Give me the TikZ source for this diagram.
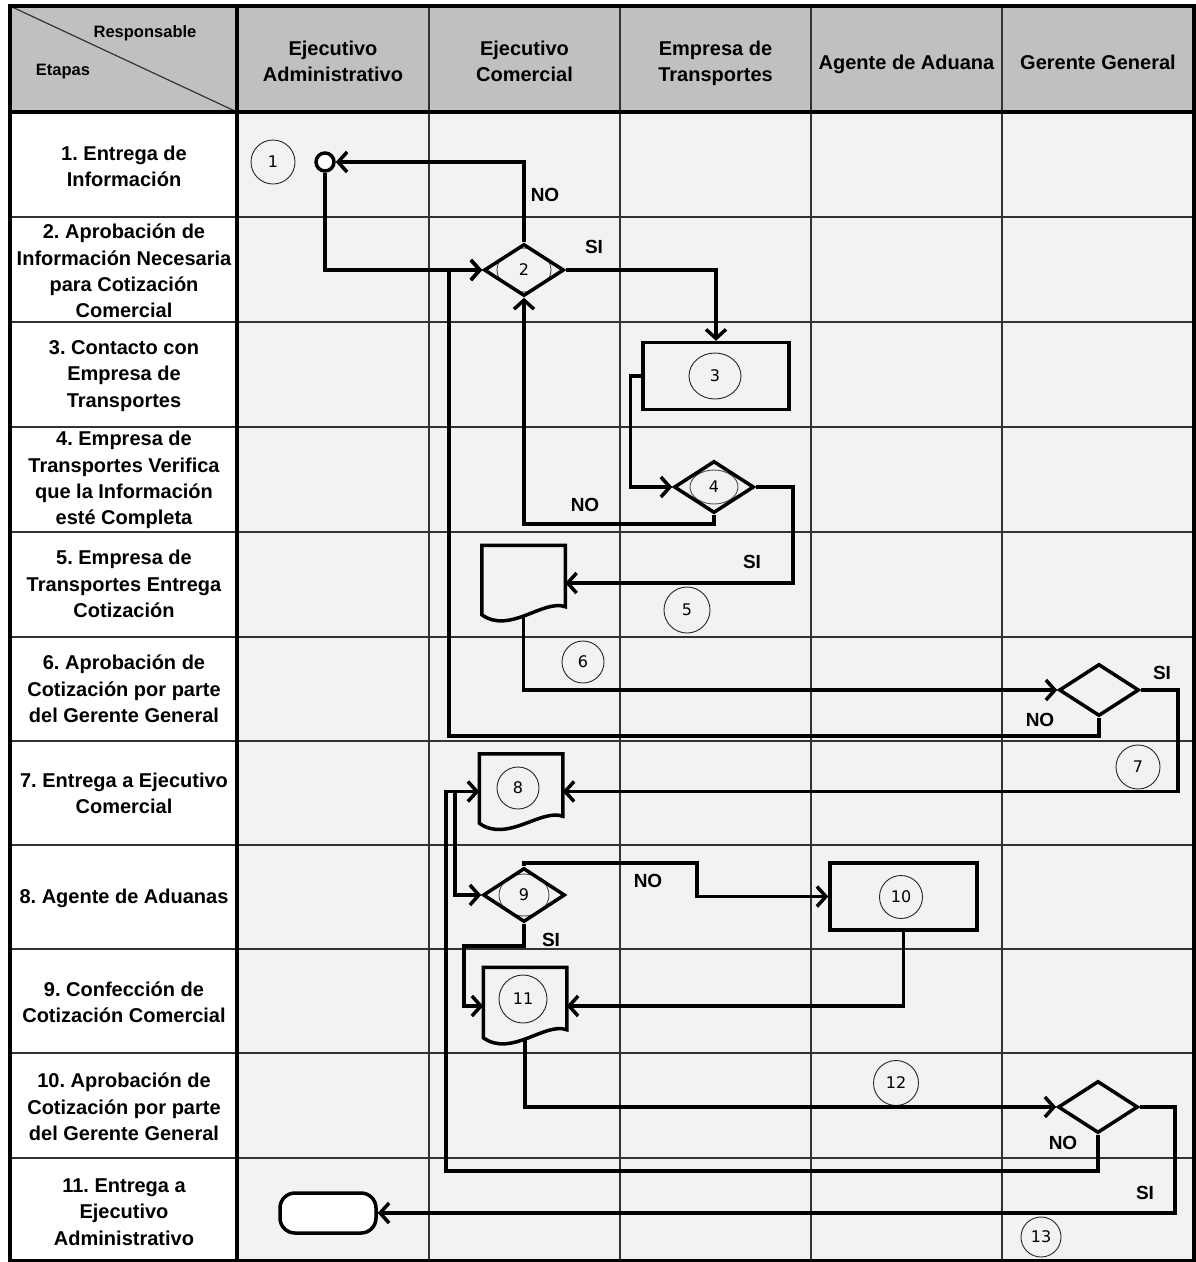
\documentclass[tikz,border=0pt]{standalone}
\usepackage{fontspec}
\setmainfont{Liberation Sans}
\newfontfamily\numfont{DejaVu Sans}
\usepackage{tikz}
\usetikzlibrary{shapes.geometric}
\usetikzlibrary{arrows.meta}
\usetikzlibrary{calc}

\definecolor{headgray}{HTML}{C0C0C0}
\definecolor{cellgray}{HTML}{F2F2F2}

\tikzset{
	gridline/.style={line width=1.2pt, black!80},
	heavyline/.style={line width=3.5pt},
	headtext/.style={align=center, font=\bfseries\fontsize{20}{26}\selectfont},
	rowtext/.style={align=center, inner sep=0pt, font=\frenchspacing\bfseries\fontsize{20}{26.3}\selectfont},
	answer/.style={font=\bfseries\fontsize{19}{19}\selectfont},
	flow/.style={line width=3.5pt, -{Straight Barb[length=9pt,width=20pt]}},
	shapeline/.style={line width=3.5pt},
	numcirc/.style={circle, draw, line width=0.9pt, black!85, text=black, minimum size=44pt, inner sep=0pt, font=\numfont\fontsize{16}{16}\selectfont},
	process/.style={rectangle, draw, shapeline, fill=cellgray, minimum width=146pt, minimum height=67pt, inner sep=0pt},
	decision/.style={diamond, draw, shapeline, fill=cellgray, minimum width=80pt, minimum height=52pt, inner sep=0pt, font=\numfont\fontsize{16}{16}\selectfont},
	docbox/.style={rectangle, minimum width=80pt, minimum height=72pt, inner sep=0pt, outer sep=1.75pt},
	startpt/.style={circle, draw, shapeline, fill=white, minimum size=18pt, inner sep=0pt},
	terminal/.style={rectangle, rounded corners=15pt, draw, shapeline, fill=white, minimum width=96pt, minimum height=40pt, inner sep=0pt}
}

\begin{document}
\begin{tikzpicture}[x=1pt, y=-1pt]
				\useasboundingbox (0,0) rectangle (1196,1262);
				% Table: fills, rules and titles:
				\fill[headgray] (10,6) rectangle (1194,112);
				\fill[white] (10,112) rectangle (237,1261);
				\fill[cellgray] (237,112) rectangle (1194,1261);
				\foreach \y in {217,322,427,532,637,741,845,949,1053,1158}
					\draw[gridline] (10,\y) -- (1194,\y);
				\foreach \x in {429,620,811,1002}
					\draw[gridline] (\x,6) -- (\x,1261);
				\draw[gridline] (10,6) -- (237,112);
				\draw[heavyline] (237,6) -- (237,1261);
				\draw[heavyline] (10,112) -- (1194,112);
				\draw[heavyline] (10,6) rectangle (1194,1261);
				\node[font=\bfseries\fontsize{16.5}{16.5}\selectfont](T1) at (145,33){Responsable};
				\node[font=\bfseries\fontsize{16.5}{16.5}\selectfont](T2) at (63,72){Etapas};
				\node[headtext](H1) at (333,61){Ejecutivo\\Administrativo};
				\node[headtext](H2) at (524.5,61){Ejecutivo\\Comercial};
				\node[headtext](H3) at (715.5,63){Empresa de\\Transportes};
				\node[headtext](H4) at (906.5,64){Agente de Aduana};
				\node[headtext](H5) at (1098,62){Gerente General};
				\node[rowtext](R1) at (124,166){1. Entrega de\\Información};
				\node[rowtext](R2) at (124,271){2. Aprobación de\\Información Necesaria\\para Cotización\\Comercial};
				\node[rowtext](R3) at (124,376){3. Contacto con\\Empresa de\\Transportes};
				\node[rowtext](R4) at (124,480){4. Empresa de\\Transportes Verifica\\que la Información\\esté Completa};
				\node[rowtext](R5) at (124,584){5. Empresa de\\Transportes Entrega\\Cotización};
				\node[rowtext](R6) at (124,689){6. Aprobación de\\Cotización por parte\\del Gerente General};
				\node[rowtext](R7) at (124,793){7. Entrega a Ejecutivo\\Comercial};
				\node[rowtext](R8) at (124,898){8. Agente de Aduanas};
				\node[rowtext](R9) at (124,1002){9. Confección de\\Cotización Comercial};
				\node[rowtext](R10) at (124,1107){10. Aprobación de\\Cotización por parte\\del Gerente General};
				\node[rowtext](R11) at (124,1212){11. Entrega a\\Ejecutivo\\Administrativo};
				% Shapes of the flow:
				\node[startpt](S1) at (325,162){};
				\node[numcirc](N1) at (273,162){1};
				\node[decision, path picture={\draw[line width=0.9pt, black!70] (path picture bounding box.center) ellipse (27pt and 22pt);}](D2) at (524,270){2};
				\node[process](B3) at (716,376){};
				\node[numcirc, ellipse, minimum width=52pt, minimum height=46pt](N3) at (715,376){3};
				\node[decision, path picture={\draw[line width=0.9pt, black!70] (path picture bounding box.center) ellipse (24pt and 17pt);}](D4) at (714,487){4};
				\node[docbox](Doc5) at (523.5,583){};
				\draw[shapeline, fill=cellgray] (Doc5.north west) -- (Doc5.north east) -- ($(Doc5.south east)+(0,-14)$) .. controls +(-22,-8) and +(28,20) .. ($(Doc5.south west)+(0,-6)$) -- cycle;
				\node[numcirc, minimum size=46pt](N5) at (687,610){5};
				\node[numcirc, minimum size=42pt](N6) at (583,662){6};
				\node[decision](G6) at (1099,690){};
				\node[numcirc](N7) at (1138,767){7};
				\node[docbox](Doc8) at (521,791.5){};
				\draw[shapeline, fill=cellgray] (Doc8.north west) -- (Doc8.north east) -- ($(Doc8.south east)+(0,-13)$) .. controls +(-22,-8) and +(28,20) .. ($(Doc8.south west)+(0,-6)$) -- cycle;
				\node[numcirc, minimum size=42pt](N8) at (518,788){8};
				\node[decision, minimum width=82pt, minimum height=54pt, path picture={\draw[line width=0.9pt, black!70] (path picture bounding box.center) ellipse (25pt and 21pt);}](D9) at (524,895){9};
				\node[process, minimum width=147pt](B10) at (903.5,896.5){};
				\node[numcirc, minimum size=43pt](N10) at (901,897){10};
				\node[docbox, minimum height=74pt](Doc11) at (525,1006){};
				\draw[shapeline, fill=cellgray] (Doc11.north west) -- (Doc11.north east) -- ($(Doc11.south east)+(0,-15)$) .. controls +(-22,-8) and +(28,20) .. ($(Doc11.south west)+(0,-7)$) -- cycle;
				\node[numcirc, minimum size=48pt](N11) at (523,999){11};
				\node[decision](G10) at (1098,1107){};
				\node[numcirc, minimum width=45pt](N12) at (896,1083){12};
				\node[terminal](End) at (328,1213){};
				\node[numcirc, minimum size=40pt](N13) at (1041,1237){13};
				% Connectors:
				\coordinate (K6) at (449,736);
				\coordinate (K8) at (455,792);
				\coordinate (K9a) at (697,863);
				\coordinate (K9b) at (464,946);
				\coordinate (K10) at (446,1171);
				\draw[flow] (S1.south) |- (D2.west);
				\draw[flow] (D2.north) |- (S1.east);
				\draw[flow] (D2.east) -| (B3.north);
				\draw[flow] (B3.west) -- ++(-11,0) |- (D4.west);
				\draw[flow] (D4.south) -- ++(0,9) -| (D2.south);
				\draw[flow] (D4.east) -- ++(37,0) |- (Doc5.east);
				\draw[flow] ($(Doc5.south)+(0,-5)$) |- (G6.west);
				\draw[flow] (G6.east) -- ++(37,0) |- (Doc8.east);
				\draw[flow] (G6.south) |- (K6) |- (D2.west);
				\draw[flow] (K8) |- (D9.west);
				\draw[flow] (D9.north) |- (K9a) |- (B10.west);
				\draw[flow] (D9.south) |- (K9b) |- (Doc11.west);
				\draw[flow] (B10.south) |- (Doc11.east);
				\draw[flow] ($(Doc11.south)+(0,-5)$) |- (G10.west);
				\draw[flow] (G10.south) |- (K10) |- (Doc8.west);
				\draw[flow] (G10.east) -- ++(35,0) |- (End.east);
				% Answers:
				\node[answer](A1) at (545,195){NO};
				\node[answer](A2) at (594,247){SI};
				\node[answer](A3) at (585,505){NO};
				\node[answer](A4) at (752,562){SI};
				\node[answer](A5) at (1162,673){SI};
				\node[answer](A6) at (1040,720){NO};
				\node[answer](A7) at (648,881){NO};
				\node[answer](A8) at (551,940){SI};
				\node[answer](A9) at (1063,1143){NO};
				\node[answer](A10) at (1145,1193){SI};
			\end{tikzpicture}
\end{document}
